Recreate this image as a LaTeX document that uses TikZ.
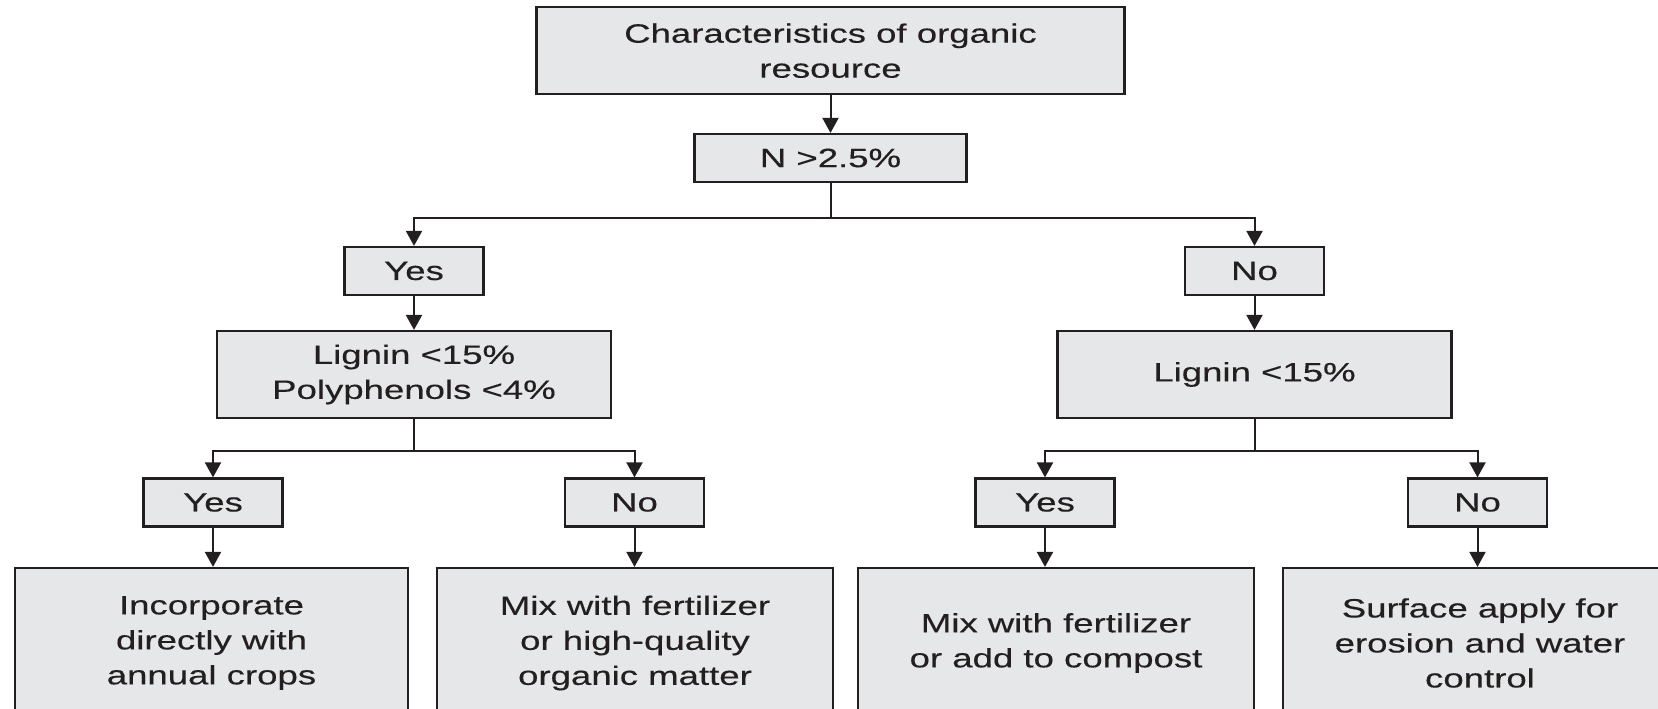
\documentclass[tikz,border=0pt]{standalone}
\usepackage{fontspec}
\setmainfont{Liberation Sans}[FakeStretch=1.38,FakeBold=0.3]
\usetikzlibrary{arrows.meta}
\definecolor{boxfill}{HTML}{E6E7E8}
\definecolor{ink}{HTML}{231F20}
\begin{document}
\begin{tikzpicture}[x=1pt,y=-1pt,
  box/.style={draw=ink, line width=2.2pt, fill=boxfill, text=ink, rectangle, inner sep=0pt, align=center, font=\fontsize{26.5}{35}\selectfont},
  smallbox/.style={box, minimum width=139pt, minimum height=48pt},
  bigbox/.style={box, minimum height=150pt},
  arr/.style={draw=ink, line width=2pt, -{Triangle[width=16pt,length=15pt]}}]
\useasboundingbox (0,0) rectangle (1658,709);
\clip (0,0) rectangle (1658,709);
% nodes
\node[box, minimum width=588pt, minimum height=87pt] (top) at (830.5,50.7) {Characteristics of organic\\resource};
\node[box, minimum width=272pt, minimum height=48pt] (n) at (830.5,158) {N >2.5\%};
\node[smallbox] (yes1) at (414,271) {Yes};
\node[smallbox] (no1) at (1254.5,271) {No};
\node[box, minimum width=394pt, minimum height=87pt] (lig1) at (414,374.5) {Lignin <15\%\\Polyphenols <4\%};
\node[box, minimum width=394pt, minimum height=87pt] (lig2) at (1254.5,374.5) {Lignin <15\%};
\node[smallbox] (yes2) at (213,502.5) {Yes};
\node[smallbox] (no2) at (634.5,502.5) {No};
\node[smallbox] (yes3) at (1045,502.5) {Yes};
\node[smallbox] (no3) at (1477.5,502.5) {No};
\node[bigbox, minimum width=393pt] (b1) at (211.5,643) {Incorporate\\directly with\\annual crops};
\node[bigbox, minimum width=396pt] (b2) at (635,643) {Mix with fertilizer\\or high-quality\\organic matter};
\node[bigbox, minimum width=396pt] (b3) at (1056,643) {Mix with fertilizer\\or add to compost};
\node[bigbox, minimum width=394pt] (b4) at (1480,643) {Surface apply for\\erosion and water\\control};
% connectors
\draw[arr] (top) -- (n);
\draw[arr] (n.south) -- ++(0,35) -| (yes1.north);
\draw[arr] (n.south) -- ++(0,35) -| (no1.north);
\draw[arr] (yes1) -- (lig1);
\draw[arr] (no1) -- (lig2);
\draw[arr] (lig1.south) -- ++(0,31.5) -| (yes2.north);
\draw[arr] (lig1.south) -- ++(0,31.5) -| (no2.north);
\draw[arr] (lig2.south) -- ++(0,31.5) -| (yes3.north);
\draw[arr] (lig2.south) -- ++(0,31.5) -| (no3.north);
\draw[arr] (yes2.south) -- (yes2.south |- b1.north);
\draw[arr] (no2.south) -- (no2.south |- b2.north);
\draw[arr] (yes3.south) -- (yes3.south |- b3.north);
\draw[arr] (no3.south) -- (no3.south |- b4.north);
\end{tikzpicture}
\end{document}
